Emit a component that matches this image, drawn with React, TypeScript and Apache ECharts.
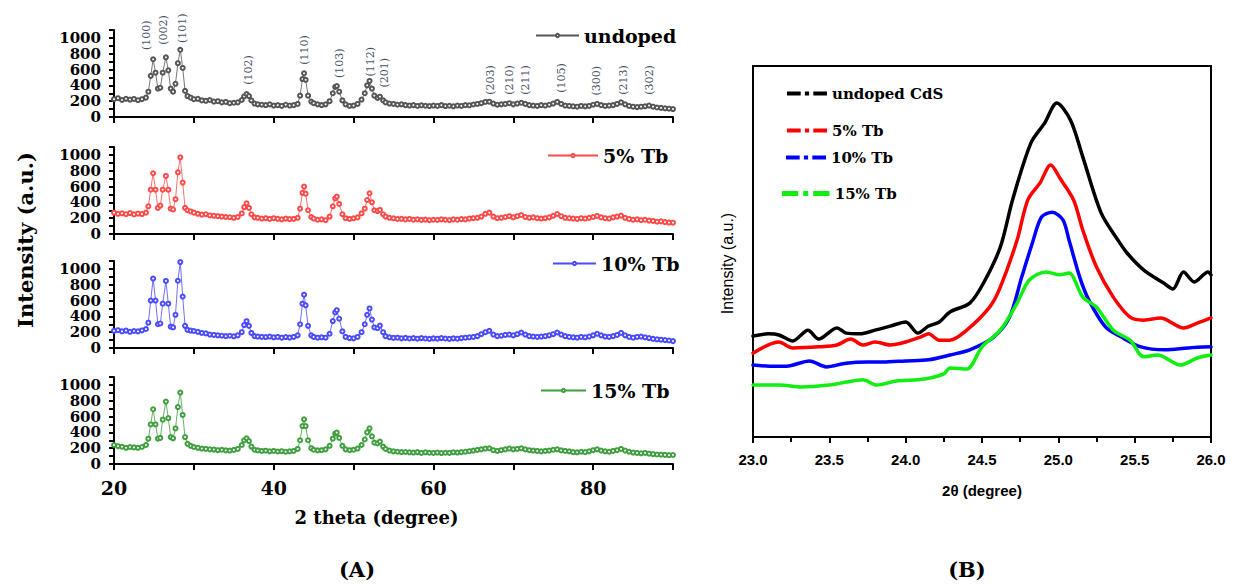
import React, { useEffect, useRef } from 'react';
import * as echarts from 'echarts';

// ---------- Panel (A): XRD patterns ----------
const twoTheta = [
  20, 20.5, 21, 21.5, 22, 22.5, 23, 23.5, 24,
  24.3, 24.6, 24.9, 25.2, 25.5, 25.8, 26.1, 26.5, 26.8, 27.1, 27.4, 27.7, 28.0, 28.3, 28.6, 28.9, 29.2, 29.6,
  30, 30.5, 31, 31.5, 32, 32.5, 33, 33.5, 34, 34.5, 35, 35.5, 36,
  36.3, 36.6, 36.9, 37.2, 37.6,
  38, 38.5, 39, 39.5, 40, 40.5, 41, 41.5, 42, 42.5, 43,
  43.3, 43.6, 43.8, 44.0, 44.3, 44.7,
  45, 45.5, 46, 46.5, 47,
  47.4, 47.7, 47.9, 48.2, 48.6,
  49, 49.5, 50, 50.5, 51,
  51.4, 51.7, 52.0, 52.3, 52.6, 53, 53.3, 53.7,
  54,
  54.5, 55, 55.5, 56, 56.5, 57, 57.5, 58, 58.5, 59, 59.5, 60,
  60.5, 61, 61.5, 62, 62.5, 63, 63.5, 64, 64.5, 65, 65.5, 66,
  66.5, 67, 67.5, 68, 68.5, 69, 69.5, 70, 70.5, 71, 71.5, 72,
  72.5, 73, 73.5, 74, 74.5, 75, 75.5, 76, 76.5, 77, 77.5, 78,
  78.5, 79, 79.5, 80, 80.5, 81, 81.5, 82, 82.5, 83, 83.5, 84,
  84.5, 85, 85.5, 86, 86.5, 87, 87.5, 88, 88.5, 89, 89.5, 90,
];

const undoped = [
  225, 238, 215, 230, 220, 228, 212, 225, 245,
  320, 520, 730, 560, 360, 370, 560, 755, 590, 360, 320, 420, 680, 850, 620, 330, 265, 245,
  225, 230, 210, 205, 215, 195, 200, 185, 190, 175, 180, 185, 215,
  260, 290, 265, 210, 170,
  160, 155, 150, 160, 145, 150, 140, 155, 145, 150, 165,
  270, 480, 553, 470, 270, 195,
  175, 160, 150, 160, 200,
  300, 380, 392, 320, 210,
  160, 140, 145, 165, 220,
  300, 400, 456, 360, 270, 240, 257, 210,
  185,
  170, 165, 155, 160, 150, 145, 150, 140, 148, 142, 138, 145,
  140, 150, 138, 142, 135, 145, 140, 150, 148, 158, 165, 175,
  190, 194, 170, 155, 160, 165, 175, 160, 170, 180, 165, 150,
  145, 140, 150, 145, 155, 170, 190, 165, 145, 140, 135, 130,
  140, 135, 140, 155, 165, 150, 140, 145, 150, 165, 185, 160,
  140, 130, 125, 130, 135, 145, 130, 120, 115, 110, 105, 100,
];

const tb5 = [
  270, 255, 262, 250, 265, 248, 258, 252, 270,
  350, 560, 768, 560, 330, 360, 560, 734, 560, 320, 310, 440, 780, 970, 650, 330, 300, 285,
  270, 255, 245, 250, 235, 230, 225, 220, 215, 212, 205, 215, 260,
  340, 388, 330, 250, 210,
  205, 195, 200, 190, 200, 192, 185, 195, 188, 190, 205,
  320, 520, 600, 510, 300, 215,
  195, 180, 185, 175, 220,
  350, 450, 473, 380, 250,
  200, 190, 198, 210, 260,
  320, 430, 515, 400, 300, 290, 304, 250,
  220,
  205, 198, 190, 192, 185, 190, 180, 185, 178, 182, 175, 180,
  178, 185, 180, 175, 185, 180, 188, 185, 195, 200, 205, 220,
  255, 270, 220, 200, 205, 215, 225, 210, 225, 240, 215, 205,
  210, 200, 195, 200, 210, 230, 253, 225, 205, 200, 195, 190,
  200, 195, 205, 215, 228, 210, 200, 195, 210, 220, 232, 205,
  190, 180, 185, 175, 180, 170, 165, 155, 160, 150, 145, 143,
];

const tb10 = [
  217, 225, 210, 220, 205, 215, 210, 222, 240,
  320, 600, 878, 600, 300, 310, 560, 848, 560, 270, 260, 420, 850, 1087, 650, 280, 230, 220,
  215, 205, 190, 185, 170, 165, 160, 155, 150, 155, 148, 160, 200,
  290, 339, 280, 190, 150,
  145, 140, 138, 145, 135, 140, 130, 138, 132, 140, 160,
  300, 560, 674, 540, 280, 160,
  140, 130, 135, 130, 180,
  340, 450, 478, 370, 210,
  140, 125, 122, 140, 200,
  300, 420, 500, 360, 260, 250, 283, 200,
  150,
  135, 128, 130, 122, 128, 120, 125, 118, 125, 120, 115, 122,
  118, 125, 120, 115, 122, 118, 125, 130, 135, 140, 150, 175,
  200, 217, 170, 150, 155, 165, 170, 160, 175, 196, 170, 150,
  145, 140, 145, 150, 160, 175, 196, 170, 150, 140, 135, 130,
  140, 135, 145, 160, 180, 160, 145, 140, 150, 165, 190, 160,
  140, 130, 140, 145, 135, 125, 115, 110, 105, 100, 95, 87,
];

const tb15 = [
  240, 225, 218, 205, 215, 210, 205, 215, 240,
  320, 500, 692, 500, 320, 330, 560, 789, 580, 340, 325, 450, 720, 903, 620, 340, 255, 230,
  215, 205, 195, 190, 185, 182, 175, 180, 172, 170, 178, 190, 240,
  300, 325, 290, 220, 180,
  172, 165, 168, 160, 165, 158, 162, 155, 160, 165, 190,
  300, 480, 565, 480, 300, 200,
  180, 172, 175, 185, 230,
  320, 385, 397, 330, 230,
  185, 175, 180, 195, 240,
  310, 400, 451, 350, 270, 260, 283, 220,
  190,
  170, 160, 155, 150, 152, 148, 145, 150, 140, 148, 142, 140,
  145, 138, 142, 140, 148, 145, 150, 155, 162, 170, 178, 185,
  195, 198, 175, 165, 175, 185, 195, 185, 190, 198, 185, 175,
  170, 165, 160, 165, 170, 180, 186, 172, 165, 160, 150, 148,
  155, 150, 160, 175, 186, 170, 160, 155, 165, 175, 190, 170,
  155, 145, 140, 135, 140, 130, 125, 120, 118, 115, 112, 114,
];

const hklLabels = ['(100)', '(002)', '(101)', '(102)', '(110)', '(103)', '(112)', '(201)', '(203)', '(210)', '(211)', '(105)', '(300)', '(213)', '(302)'];
const hklTheta = [24.1, 26.2, 28.6, 36.8, 43.8, 48.3, 52.1, 53.9, 67.1, 69.5, 71.5, 76.0, 80.4, 83.8, 87.1];
const hklY = [1034, 1100, 1123, 595, 848, 680, 700, 560, 468, 468, 468, 494, 458, 468, 468];

const seriesNamesA = ['undoped', '5% Tb', '10% Tb', '15% Tb'];
const seriesDataA = [undoped, tb5, tb10, tb15];

// ---------- Panel (B): zoom on the (100) peak ----------
const bUndopedTheta = [23.0, 23.1, 23.17, 23.26, 23.36, 23.43, 23.55, 23.61, 23.7, 23.8, 23.9, 24.0, 24.08, 24.15, 24.22, 24.29, 24.42, 24.51, 24.62, 24.7, 24.82, 24.91, 24.99, 25.08, 25.16, 25.28, 25.39, 25.45, 25.56, 25.69, 25.75, 25.82, 25.89, 25.98, 26.0];
const bUndopedI = [27.2, 27.8, 27.5, 25.9, 28.8, 26.4, 29.4, 28.0, 27.8, 28.8, 29.9, 31.0, 28.0, 29.9, 31.0, 33.7, 36.1, 41.5, 51.2, 63.9, 79.2, 84.6, 90.0, 85.4, 75.5, 60.4, 53.1, 49.6, 45.0, 41.5, 39.9, 44.5, 41.8, 44.5, 43.7];

const bTb5Theta = [23.0, 23.17, 23.26, 23.43, 23.55, 23.64, 23.72, 23.8, 23.9, 24.0, 24.1, 24.15, 24.22, 24.29, 24.4, 24.55, 24.62, 24.73, 24.8, 24.88, 24.95, 25.01, 25.1, 25.16, 25.25, 25.36, 25.47, 25.56, 25.67, 25.82, 25.91, 26.0];
const bTb5I = [22.6, 25.6, 24.0, 24.3, 24.8, 26.4, 24.8, 25.6, 24.8, 25.6, 27.0, 27.8, 26.1, 26.1, 28.8, 35.0, 40.4, 53.1, 63.9, 68.5, 73.3, 69.8, 63.9, 55.8, 45.8, 37.7, 32.3, 31.5, 32.1, 29.4, 30.7, 32.1];

const bTb10Theta = [23.0, 23.11, 23.22, 23.37, 23.48, 23.61, 23.75, 23.85, 24.0, 24.15, 24.29, 24.42, 24.57, 24.68, 24.76, 24.83, 24.89, 24.96, 25.03, 25.07, 25.14, 25.2, 25.31, 25.41, 25.54, 25.7, 25.85, 26.0];
const bTb10I = [19.4, 19.1, 19.1, 20.5, 18.9, 19.9, 20.2, 20.2, 20.5, 20.8, 22.1, 23.5, 26.7, 32.3, 43.1, 52.3, 59.3, 60.6, 58.5, 53.1, 43.1, 36.9, 29.6, 27.0, 24.3, 23.5, 24.0, 24.3];

const bTb15Theta = [23.0, 23.17, 23.32, 23.5, 23.61, 23.72, 23.81, 23.94, 24.08, 24.16, 24.25, 24.29, 24.4, 24.5, 24.62, 24.73, 24.81, 24.92, 25.01, 25.07, 25.16, 25.25, 25.36, 25.47, 25.56, 25.65, 25.8, 25.91, 26.0];
const bTb15I = [14.0, 14.0, 13.5, 14.0, 14.8, 15.4, 14.0, 15.1, 15.4, 15.9, 17.0, 18.6, 18.3, 24.3, 28.8, 36.1, 42.3, 44.5, 43.7, 44.2, 37.7, 35.0, 28.8, 26.1, 21.6, 22.1, 19.4, 21.3, 22.1];

const seriesNamesB = ['undoped CdS', '5% Tb', '10% Tb', '15% Tb'];
const seriesThetaB = [bUndopedTheta, bTb5Theta, bTb10Theta, bTb15Theta];
const seriesIntB = [bUndopedI, bTb5I, bTb10I, bTb15I];

// ---------- styling ----------
const SERIF = 'DejaVu Serif';
const SANS = 'Liberation Sans';
const colorsA = ['#555555', '#ff4a4a', '#4a4aff', '#3f9f3f'];
const colorsB = ['#000000', '#ff0000', '#0000ff', '#11ee11'];
const gridTopsA = [30, 147, 261, 377];
const legendPosA = [
  { left: 535, top: 26, w: 43 },
  { left: 547, top: 146, w: 50 },
  { left: 552, top: 254, w: 43 },
  { left: 540, top: 381, w: 45 },
];
const legendPosB = [
  { left: 787, top: 86, w: 40 },
  { left: 787, top: 123, w: 40 },
  { left: 786, top: 150, w: 40 },
  { left: 782, top: 186, w: 48 },
];
const DASHDOT = 'path://M0,0H13V4H0Z M17,0H21V4H17Z M25,0H38V4H25Z';

function buildOption() {
  const grid: any[] = gridTopsA.map((t) => ({ left: 114, top: t, width: 559, height: 87 }));
  grid.push({ left: 753, top: 66, width: 458, height: 371, show: true, borderColor: '#000', borderWidth: 2, backgroundColor: 'transparent' });

  const xAxis: any[] = gridTopsA.map((_, i) => ({
    gridIndex: i,
    type: 'value',
    min: 20,
    max: 90,
    interval: 10,
    axisLine: { show: true, lineStyle: { color: '#000', width: 2 } },
    axisTick: { show: true, length: 6, lineStyle: { color: '#000', width: 2 } },
    splitLine: { show: false },
    axisLabel: i === 3
      ? {
          show: true,
          formatter: (v: number) => (v % 20 === 0 && v < 90 ? String(v) : ''),
          fontFamily: SERIF, fontWeight: 'bold', fontSize: 19, color: '#000', margin: 14,
        }
      : { show: false },
    ...(i === 3
      ? {
          name: '2 theta (degree)',
          nameLocation: 'middle',
          nameGap: 44,
          nameTextStyle: { fontFamily: SERIF, fontWeight: 'bold', fontSize: 18, color: '#000', padding: [0, 34, 0, 0] },
        }
      : {}),
  }));
  xAxis.push({
    gridIndex: 4,
    type: 'value',
    min: 23,
    max: 26,
    interval: 0.5,
    axisLine: { show: true, lineStyle: { color: '#000', width: 2 } },
    axisTick: { show: true, length: 6, lineStyle: { color: '#000', width: 2 } },
    minorTick: { show: true, splitNumber: 2, length: 5, lineStyle: { color: '#000', width: 2 } },
    splitLine: { show: false },
    minorSplitLine: { show: false },
    axisLabel: { formatter: (v: number) => v.toFixed(1), fontFamily: SANS, fontWeight: 'bold', fontSize: 15, color: '#000', margin: 15 },
    name: '2θ (degree)',
    nameLocation: 'middle',
    nameGap: 46,
    nameTextStyle: { fontFamily: SANS, fontWeight: 'bold', fontSize: 15, color: '#000' },
  });

  const yAxis: any[] = gridTopsA.map((_, i) => ({
    gridIndex: i,
    type: 'value',
    min: 0,
    max: 1100,
    interval: 100,
    axisLine: { show: true, lineStyle: { color: '#000', width: 2 } },
    axisTick: { show: true, length: 5, lineStyle: { color: '#000', width: 2 } },
    splitLine: { show: false },
    axisLabel: {
      formatter: (v: number) => (v % 200 === 0 && v <= 1000 ? String(v) : ''),
      fontFamily: SERIF, fontWeight: 'bold', fontSize: 15, lineHeight: 15, color: '#000', margin: 13,
    },
  }));
  yAxis.push({
    gridIndex: 4,
    type: 'value',
    min: 0,
    max: 100,
    axisLine: { show: true, lineStyle: { color: '#000', width: 2 } },
    axisTick: { show: false },
    axisLabel: { show: false },
    splitLine: { show: false },
    name: 'Intensity (a.u.)',
    nameLocation: 'middle',
    nameGap: 18,
    nameTextStyle: { fontFamily: SANS, fontSize: 16, color: '#000', padding: [0, 24, 0, 0] },
  });

  const series: any[] = [];
  seriesDataA.forEach((vals, i) => {
    series.push({
      type: 'line',
      name: seriesNamesA[i],
      xAxisIndex: i,
      yAxisIndex: i,
      data: twoTheta.map((x, k) => [x, vals[k]]),
      symbol: 'emptyCircle',
      symbolSize: 4,
      showSymbol: true,
      lineStyle: { color: colorsA[i], width: 0.8 },
      itemStyle: { color: colorsA[i], borderColor: colorsA[i], borderWidth: 0.8 },
      silent: true,
    });
  });
  series.push({
    type: 'scatter',
    name: 'hkl',
    xAxisIndex: 0,
    yAxisIndex: 0,
    clip: false,
    silent: true,
    symbolSize: 1,
    itemStyle: { color: 'transparent' },
    data: hklTheta.map((x, k) => ({ value: [x, hklY[k]], name: hklLabels[k] })),
    label: {
      show: true,
      formatter: '{b}',
      position: 'inside',
      rotate: 90,
      fontFamily: SERIF,
      fontSize: 11,
      color: '#13213d',
    },
  });
  seriesThetaB.forEach((th, i) => {
    series.push({
      type: 'line',
      name: 'B:' + seriesNamesB[i],
      xAxisIndex: 4,
      yAxisIndex: 4,
      data: th.map((x, k) => [x, seriesIntB[i][k]]),
      showSymbol: false,
      smooth: 0.3,
      lineStyle: { color: colorsB[i], width: 3.5, cap: 'round', join: 'round' },
      itemStyle: { color: colorsB[i] },
      silent: true,
    });
  });

  const legend: any[] = [];
  seriesNamesA.forEach((n, i) => {
    legend.push({
      data: [n],
      left: legendPosA[i].left,
      top: legendPosA[i].top,
      padding: 0,
      itemWidth: legendPosA[i].w,
      itemHeight: 4,
      selectedMode: false,
      textStyle: { fontFamily: SERIF, fontWeight: 'bold', fontSize: 19, color: '#000' },
    });
  });
  seriesNamesB.forEach((n, i) => {
    legend.push({
      data: [{ name: 'B:' + n, icon: DASHDOT }],
      formatter: () => n,
      left: legendPosB[i].left,
      top: legendPosB[i].top,
      padding: 0,
      itemWidth: legendPosB[i].w,
      itemHeight: 5,
      selectedMode: false,
      textStyle: { fontFamily: SERIF, fontWeight: 'bold', fontSize: 15, color: '#000' },
    });
  });

  const graphic = [
    {
      type: 'text', x: 25, y: 240, rotation: Math.PI / 2,
      style: { text: 'Intensity (a.u.)', fontFamily: SERIF, fontWeight: 'bold', fontSize: 21, fill: '#000', align: 'center', verticalAlign: 'middle' },
    },
    {
      type: 'text', x: 357, y: 569,
      style: { text: '(A)', fontFamily: SERIF, fontWeight: 'bold', fontSize: 21, fill: '#000', align: 'center', verticalAlign: 'middle' },
    },
    {
      type: 'text', x: 967, y: 569,
      style: { text: '(B)', fontFamily: SERIF, fontWeight: 'bold', fontSize: 21, fill: '#000', align: 'center', verticalAlign: 'middle' },
    },
  ];

  return {
    animation: false,
    backgroundColor: '#ffffff',
    grid,
    xAxis,
    yAxis,
    legend,
    series,
    graphic,
  };
}

export default function App() {
  const ref = useRef<HTMLDivElement>(null);
  useEffect(() => {
    if (!ref.current) return;
    const chart = echarts.init(ref.current, null, { renderer: 'svg' });
    chart.setOption(buildOption() as any);
    return () => chart.dispose();
  }, []);
  return (
    <div
      ref={ref}
      style={{ position: 'absolute', left: 0, top: 0, width: 1235, height: 586, background: '#fff' }}
    />
  );
}
